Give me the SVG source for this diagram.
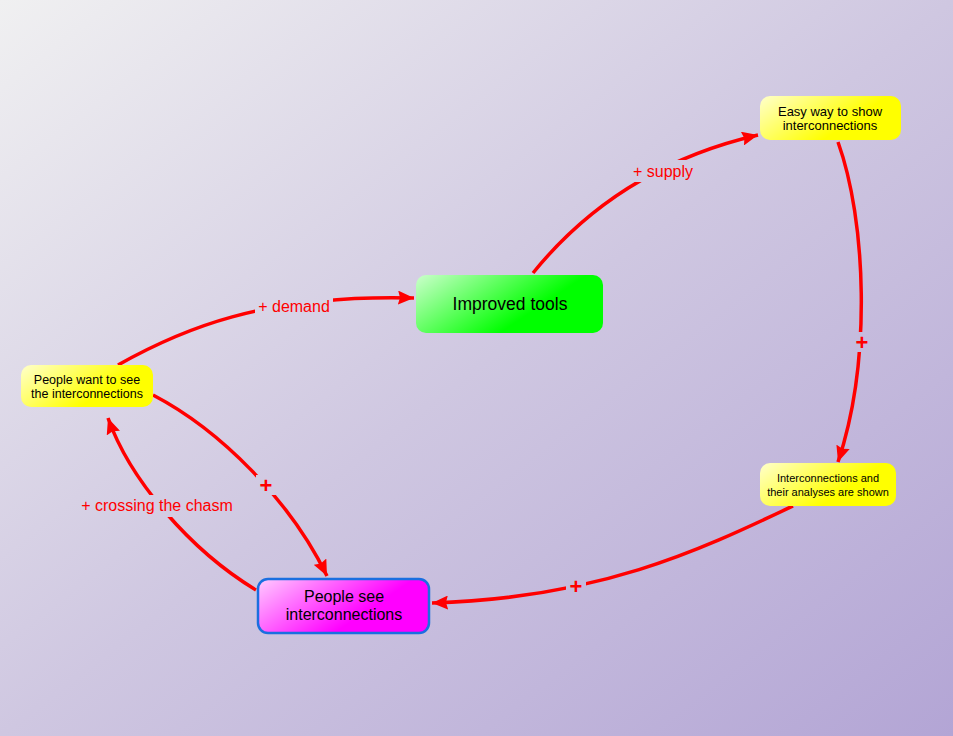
<svg xmlns="http://www.w3.org/2000/svg" width="953" height="736" viewBox="0 0 953 736">
<defs>
<linearGradient id="bg" x1="0" y1="0" x2="1" y2="1">
<stop offset="0" stop-color="#f0f0f1"/>
<stop offset="0.5" stop-color="#cfc7e1"/>
<stop offset="1" stop-color="#b3a5d5"/>
</linearGradient>
<linearGradient id="green" x1="0" y1="0" x2="0.75" y2="0.35">
<stop offset="0" stop-color="#ccffcc"/>
<stop offset="1" stop-color="#00ff00"/>
</linearGradient>
<linearGradient id="yellow" x1="0" y1="0" x2="0.75" y2="0.35">
<stop offset="0" stop-color="#ffffcc"/>
<stop offset="1" stop-color="#ffff00"/>
</linearGradient>
<linearGradient id="magenta" x1="0" y1="0" x2="0.75" y2="0.35">
<stop offset="0" stop-color="#ffccff"/>
<stop offset="1" stop-color="#ff00ff"/>
</linearGradient>
<marker id="arr" markerUnits="userSpaceOnUse" markerWidth="18" markerHeight="14" refX="16" refY="7" orient="auto">
<path d="M0,0 L16,7 L0,14 L2,7 Z" fill="#ff0000"/>
</marker>
<mask id="gaps" maskUnits="userSpaceOnUse" x="0" y="0" width="953" height="736">
<rect x="0" y="0" width="953" height="736" fill="#fff"/>
<rect x="255" y="296" width="78" height="22" fill="#000"/>
<rect x="630" y="160" width="66" height="22" fill="#000"/>
<rect x="78" y="495" width="158" height="22" fill="#000"/>
<rect x="852" y="332" width="20" height="20" fill="#000"/>
<rect x="256" y="475" width="20" height="20" fill="#000"/>
<rect x="566" y="576" width="20" height="20" fill="#000"/>
</mask>
</defs>
<style>
.edge{fill:none;stroke:#ff0000;stroke-width:3.5;marker-end:url(#arr)}
.lbl{font-family:"Liberation Sans",Arial,sans-serif;font-size:16px;fill:#ff0000;text-anchor:middle}
.plus{font-family:"Liberation Sans",Arial,sans-serif;font-size:22px;font-weight:bold;fill:#ff0000;text-anchor:middle}
.t{font-family:"Liberation Sans",Arial,sans-serif;fill:#000;text-anchor:middle}
</style>
<rect x="0" y="0" width="953" height="736" fill="url(#bg)"/>
<g id="connectors">
<g mask="url(#gaps)">
<path class="edge" d="M118,365 C180,330 262,294 414,298"/>
<path class="edge" d="M533,273 C580,215 650,160 758,135"/>
<path class="edge" d="M838,142 C866,220 872,360 838,462"/>
<path class="edge" d="M793,506 C700,550 600,598 432,603"/>
<path class="edge" d="M153,395 C220,430 290,500 327,576"/>
<path class="edge" d="M256,590 C190,550 130,480 108,418"/>
</g>
<text class="lbl" x="294" y="312">+ demand</text>
<text class="lbl" x="663" y="177">+ supply</text>
<text class="lbl" x="157" y="511">+ crossing the chasm</text>
<text class="plus" x="862" y="350">+</text>
<text class="plus" x="266" y="493">+</text>
<text class="plus" x="576" y="594">+</text>
</g>
<g id="improved-tools">
<rect x="416" y="275" width="187" height="58" rx="10" fill="url(#green)"/>
<text class="t" x="510" y="310" font-size="17.5">Improved tools</text>
</g>
<g id="easy-way">
<rect x="760" y="96" width="141" height="44" rx="10" fill="url(#yellow)"/>
<text class="t" x="830" y="116" font-size="13">Easy way to show</text>
<text class="t" x="830" y="130" font-size="13">interconnections</text>
</g>
<g id="shown">
<rect x="760" y="463" width="136" height="43" rx="10" fill="url(#yellow)"/>
<text class="t" x="828" y="482" font-size="11">Interconnections and</text>
<text class="t" x="828" y="496" font-size="11">their analyses are shown</text>
</g>
<g id="want-to-see">
<rect x="21" y="365" width="132" height="42" rx="10" fill="url(#yellow)"/>
<text class="t" x="87" y="384" font-size="12.5">People want to see</text>
<text class="t" x="87" y="398" font-size="12.5">the interconnections</text>
</g>
<g id="people-see">
<rect x="258" y="579" width="171" height="54" rx="10" fill="url(#magenta)" stroke="#1a6fe0" stroke-width="2.5"/>
<text class="t" x="344" y="602" font-size="16">People see</text>
<text class="t" x="344" y="620" font-size="16">interconnections</text>
</g>
</svg>
